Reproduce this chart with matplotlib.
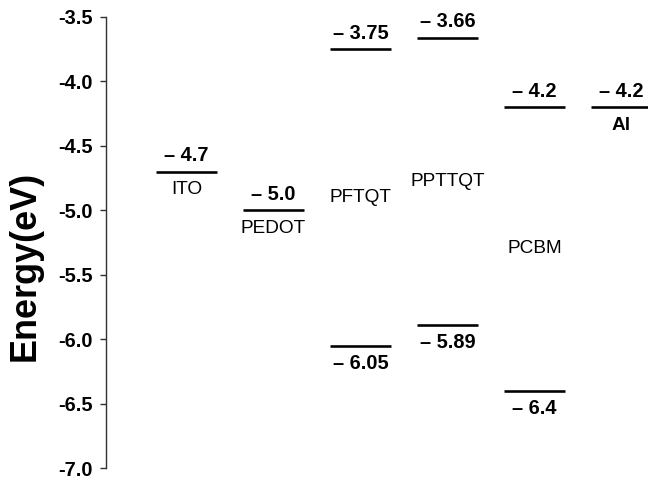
import matplotlib.pyplot as plt

# energy levels (eV)
materials = ["ITO", "PEDOT", "PFTQT", "PPTTQT", "PCBM", "Al"]
upper_levels = [-4.7, -5.0, -3.75, -3.66, -4.2, -4.2]
lower_levels = [None, None, -6.05, -5.89, -6.4, None]

yticks = [-3.5, -4.0, -4.5, -5.0, -5.5, -6.0, -6.5, -7.0]

FONT = "Liberation Sans"
HALF_W = 0.345


def level_text(v):
    s = f"{abs(v):.2f}"
    if s.endswith("0"):
        s = s[:-1]
    return "\u2013 " + s


fig = plt.figure(figsize=(648 / 72, 483 / 72), dpi=72)
ax = fig.add_axes([106 / 648, 15 / 483, 542 / 648, 451 / 483])

for i, (name, up, lo) in enumerate(zip(materials, upper_levels, lower_levels)):
    x = i + 1
    ax.hlines(up, x - HALF_W, x + HALF_W, color="black", lw=2.6, clip_on=False)
    ax.annotate(level_text(up), (x, up), xytext=(0, 16), textcoords="offset points",
                ha="center", va="center", fontsize=20, fontweight="bold",
                family=FONT)
    if lo is None:
        # single level: name goes under the line
        ax.annotate(name, (x, up), xytext=(0, -18), textcoords="offset points",
                    ha="center", va="center", fontsize=19, family=FONT,
                    fontweight="bold" if name == "Al" else "normal")
    else:
        ax.hlines(lo, x - HALF_W, x + HALF_W, color="black", lw=2.6)
        ax.annotate(level_text(lo), (x, lo), xytext=(0, -18),
                    textcoords="offset points", ha="center", va="center",
                    fontsize=20, fontweight="bold", family=FONT)
        ax.text(x, (up + lo) / 2, name, ha="center", va="center",
                fontsize=19, family=FONT)

ax.set_xlim(1 - 80.5 / 87, 1 + (648 - 186.5) / 87)
ax.set_ylim(-7.0, -3.5)
ax.set_yticks(yticks)
ax.set_yticklabels([f"{t:.1f}" for t in yticks], fontsize=20,
                   fontweight="bold", family=FONT)
ax.tick_params(axis="y", direction="out", length=6, width=1.4, pad=7,
               color="#333333")
ax.set_xticks([])
for side in ["top", "right", "bottom"]:
    ax.spines[side].set_visible(False)
ax.spines["left"].set_linewidth(1.4)
ax.spines["left"].set_color("#333333")

fig.text(25 / 648, 1 - 266 / 483, "Energy(eV)", rotation=90, ha="center",
         va="center", fontsize=36, fontweight="bold", family=FONT)

fig.savefig("out.png", dpi=72)
